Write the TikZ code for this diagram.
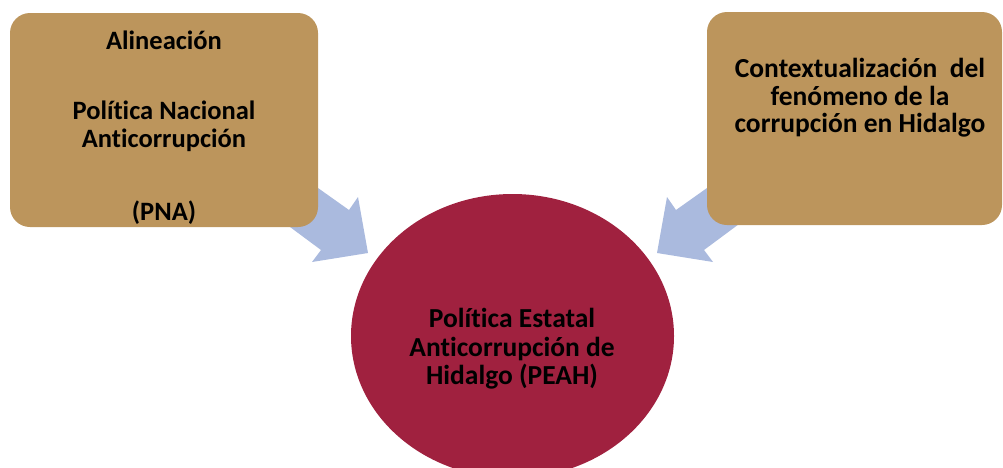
\documentclass[tikz,border=0pt]{standalone}
\usepackage{fontspec}
\setmainfont[Ligatures=NoCommon]{Carlito}
\definecolor{tan}{HTML}{BC955C}
\definecolor{maroon}{HTML}{A0213F}
\definecolor{arrowblue}{HTML}{AABADE}
\tikzset{
  tanbox/.style={fill=tan, draw=none, rounded corners=20pt, minimum width=308pt, minimum height=214pt, inner sep=0pt},
  blockarrow/.style={fill=arrowblue, draw=none},
  lbl/.style={font=\bfseries\fontsize{26.5}{29}\selectfont, text=black, align=center, inner sep=0pt},
}
\begin{document}
\begin{tikzpicture}[x=1pt,y=-1pt]
\useasboundingbox (0,0) rectangle (1003,467);
% arrows (behind)
\coordinate (la1) at (287,166);
\coordinate (la2) at (349,210);
\coordinate (la3) at (358,197);
\coordinate (la4) at (368,253);
\coordinate (la5) at (312,262);
\coordinate (la6) at (321,250);
\coordinate (la7) at (259,204);
\fill[blockarrow] (la1) -- (la2) -- (la3) -- (la4) -- (la5) -- (la6) -- (la7) -- cycle;
\coordinate (ra1) at (738,166);
\coordinate (ra2) at (676,210);
\coordinate (ra3) at (667,197);
\coordinate (ra4) at (657,253);
\coordinate (ra5) at (713,262);
\coordinate (ra6) at (704,250);
\coordinate (ra7) at (766,204);
\fill[blockarrow] (ra1) -- (ra2) -- (ra3) -- (ra4) -- (ra5) -- (ra6) -- (ra7) -- cycle;
% boxes
\node[tanbox] (left) at (164,120) {};
\node[tanbox, minimum width=295pt, minimum height=213pt] (right) at (854.5,118.5) {};
% ellipse
\fill[maroon] (512.5,336) ellipse [x radius=161.5, y radius=142];
\node[inner sep=0pt] (center) at (512.5,336) {};
% left texts
\node[lbl] (t1) at (164,40) {Alineación};
\node[lbl] (t2) at (164,110) {Política Nacional};
\node[lbl] (t3) at (164,140) {Anticorrupción};
\node[lbl] (t4) at (164,213) {(PNA)};
% right text
\node[lbl, font=\bfseries\fontsize{27.5}{27.5}\selectfont] (t5) at (860,98) {Contextualización\ \ del\\fenómeno de la\\corrupción en Hidalgo};
% center text
\node[lbl, font=\bfseries\fontsize{27.5}{28.5}\selectfont] (t6) at (512,349) {Política Estatal\\Anticorrupción de\\Hidalgo (PEAH)};
\end{tikzpicture}
\end{document}
